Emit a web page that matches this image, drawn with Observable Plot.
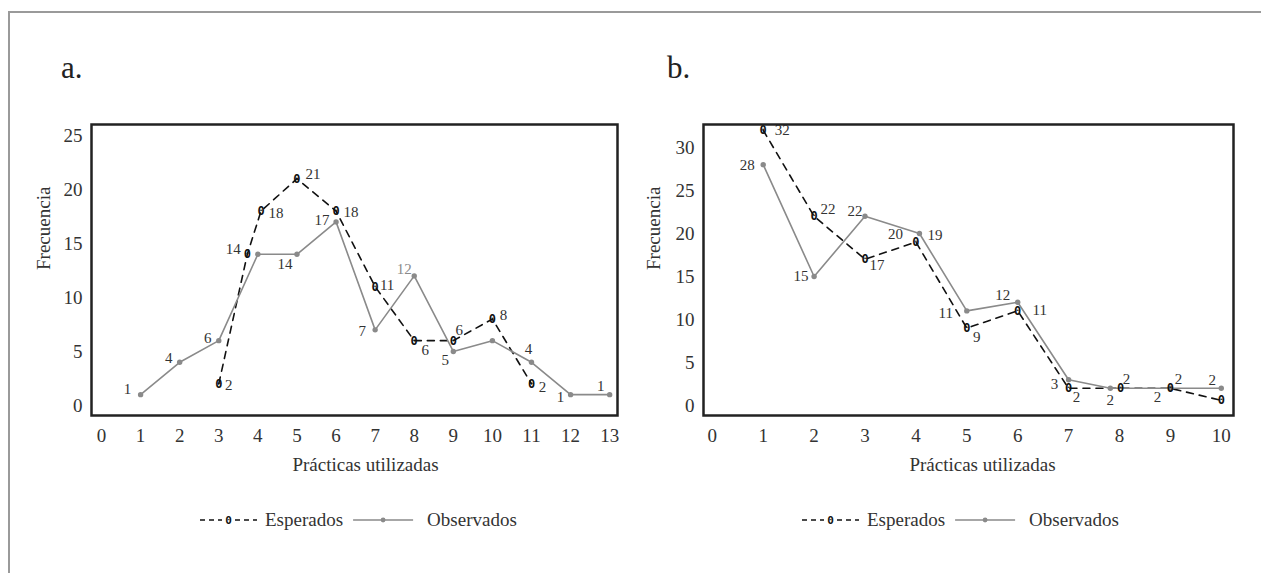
<!DOCTYPE html>
<html><head><meta charset="utf-8">
<script src="https://cdn.jsdelivr.net/npm/d3@7"></script>
<script src="https://cdn.jsdelivr.net/npm/@observablehq/plot@0.6"></script>
<style>
html,body{margin:0;padding:0;background:#fff;}
#page{position:relative;width:1261px;height:573px;overflow:hidden;font-family:"Liberation Serif","Times New Roman",serif;color:#333;}
#border{position:absolute;left:8px;top:11px;width:1300px;height:600px;border-top:2px solid #9a9a9a;border-left:2px solid #9a9a9a;}
.chart{position:absolute;top:0;}
#overlay{position:absolute;left:0;top:0;pointer-events:none;}
</style></head>
<body><div id="page"><div id="border"></div></div>
<script>
// ---------- Data (panel a) ----------
const practicesA = [1,2,3,4,5,6,7,8,9,10,11,12,13];
const observedA  = [1,4,6,14,14,17,7,12,5,6,4,1,1];
const practicesExpectedA = [3,3.73,4.08,5,6,7,8,9,10,11];
const expectedA  = [2,14,18,21,18,11,6,6,8,2];
const xTicksA = [0,1,2,3,4,5,6,7,8,9,10,11,12,13];
const yTicksA = [0,5,10,15,20,25];

// ---------- Data (panel b) ----------
const practicesB = [1,2,3,4.07,5,6,7,7.82,9,10];
const observedB  = [28,15,22,20,11,12,3,2,2,2];
const practicesExpectedB = [1,2,3,4,5,6,7,8.02,9,10];
const expectedB  = [32,22,17,19,9,11,2,2,2,0.6];
const xTicksB = [0,1,2,3,4,5,6,7,8,9,10];
const yTicksB = [0,5,10,15,20,25,30];

const seriesNames = ["Esperados","Observados"];
const panelTitles = ["a.","b."];
const xTitle = "Prácticas utilizadas";
const yTitle = "Frecuencia";

// ---------- Label placement (layout only): [index, dx, dy, fill] ----------
const obsLabelsA = [[0,-13,-5],[1,-11,-4],[2,-11,-2],[4,-12,10],[5,-14,-2],[6,-13,1],[7,-10,-7,"#8a8a8a"],[8,-8,9],[10,-3,-13],[11,-10,3],[12,-9,-8]];
const expLabelsA = [[0,10,1],[1,-14,-5],[2,15,2],[3,16,-5],[4,15,1],[5,12,-1],[6,11,10],[7,6,-10],[8,11,-4],[9,11,3]];
const obsLabelsB = [[0,-16,1],[1,-13,0],[2,-10,-5],[3,-24,1],[4,-21,2],[5,-15,-7],[6,-14,4],[7,0,12],[8,-13,9],[9,-9,-8]];
const expLabelsB = [[0,19,0],[1,14,-7],[2,12,6],[3,19,-7],[4,10,9],[5,22,-1],[6,8,9],[7,6,-9],[8,8,-9]];

const GRAY = "#8a8a8a", INK = "#111", TXT = "#333";

function makeChart(cfg) {
  const obs = cfg.xo.map((x, i) => ({x, y: cfg.yo[i]}));
  const exp = cfg.xe.map((x, i) => ({x, y: cfg.ye[i]}));
  const labelMarks = [];
  for (const [i, dx, dy, fill] of cfg.obsLabels)
    labelMarks.push(Plot.text([obs[i]], {x: "x", y: "y", text: d => String(d.y), dx, dy, fontSize: 15, fill: fill || TXT}));
  for (const [i, dx, dy, fill] of cfg.expLabels)
    labelMarks.push(Plot.text([exp[i]], {x: "x", y: "y", text: d => String(Math.round(d.y)), dx, dy, fontSize: 15, fill: fill || TXT}));
  return Plot.plot({
    width: cfg.width, height: 480,
    marginLeft: cfg.marginLeft, marginRight: cfg.marginRight, marginTop: 124, marginBottom: 65,
    style: {fontFamily: '"Liberation Serif","Times New Roman",serif', fontSize: "19px", color: TXT, background: "transparent", overflow: "visible"},
    x: {type: "linear", domain: cfg.xDomain},
    y: {type: "linear", domain: cfg.yDomain},
    marks: [
      Plot.axisX({ticks: cfg.xTicks, tickSize: 0, tickPadding: 13, tickFormat: d => String(d), label: null}),
      Plot.axisY({ticks: cfg.yTicks, tickSize: 0, tickPadding: 9, tickFormat: d => String(d), label: null}),
      Plot.line(exp, {x: "x", y: "y", stroke: INK, strokeWidth: 1.6, strokeDasharray: "7,6"}),
      Plot.line(obs, {x: "x", y: "y", stroke: GRAY, strokeWidth: 1.6}),
      Plot.dot(obs, {x: "x", y: "y", r: 2.7, fill: GRAY, stroke: "none"}),
      Plot.text(exp, {x: "x", y: "y", text: () => "0", fontFamily: '"DejaVu Sans Mono",monospace', fontWeight: "bold", fontSize: 12, fill: INK}),
      ...labelMarks,
      Plot.text([yTitle], {frameAnchor: "left", text: d => d, rotate: -90, dx: cfg.yTitleDx, fontSize: 19, fill: TXT}),
      Plot.text([xTitle], {frameAnchor: "bottom", text: d => d, dy: 55, dx: cfg.xTitleDx, fontSize: 19, fill: TXT}),
      Plot.frame({stroke: "#222", strokeWidth: 2.5})
    ]
  });
}

const page = document.getElementById("page");

const chartA = makeChart({
  width: 640, marginLeft: 91, marginRight: 23,
  xDomain: [-0.256, 13.2], yDomain: [-0.93, 26.02],
  xTicks: xTicksA, yTicks: yTicksA,
  xo: practicesA, yo: observedA, xe: practicesExpectedA, ye: expectedA,
  obsLabels: obsLabelsA, expLabels: expLabelsA,
  yTitleDx: -47.7, xTitleDx: 11
});
chartA.classList.add("chart"); chartA.style.left = "0px";
page.appendChild(chartA);

const chartB = makeChart({
  width: 621, marginLeft: 63, marginRight: 28,
  xDomain: [-0.173, 10.24], yDomain: [-1.16, 32.67],
  xTicks: xTicksB, yTicks: yTicksB,
  xo: practicesB, yo: observedB, xe: practicesExpectedB, ye: expectedB,
  obsLabels: obsLabelsB, expLabels: expLabelsB,
  yTitleDx: -49.7, xTitleDx: 14
});
chartB.classList.add("chart"); chartB.style.left = "640px";
page.appendChild(chartB);

// ---------- Overlay: panel titles and legends ----------
const svg = d3.select(page).append("svg").attr("id", "overlay").attr("width", 1261).attr("height", 573);
const titleX = [61, 667];
panelTitles.forEach((t, k) => svg.append("text").attr("x", titleX[k]).attr("y", 78)
  .attr("font-family", '"Liberation Serif","Times New Roman",serif').attr("font-size", 31).attr("fill", "#222").text(t));

function legend(x0, y) {
  const g = svg.append("g").attr("transform", `translate(${x0},${y})`)
    .attr("font-family", '"Liberation Serif","Times New Roman",serif').attr("font-size", 19).attr("fill", TXT);
  g.append("line").attr("x1", 0).attr("x2", 22).attr("y1", 0).attr("y2", 0).attr("stroke", INK).attr("stroke-width", 1.4).attr("stroke-dasharray", "5,4");
  g.append("line").attr("x1", 35).attr("x2", 57).attr("y1", 0).attr("y2", 0).attr("stroke", INK).attr("stroke-width", 1.4).attr("stroke-dasharray", "5,4");
  g.append("text").attr("x", 28.5).attr("y", 0).attr("dy", "0.35em").attr("text-anchor", "middle")
    .attr("font-family", '"DejaVu Sans Mono",monospace').attr("font-weight", "bold").attr("font-size", 11).attr("fill", INK).text("0");
  const t1 = g.append("text").attr("x", 65).attr("y", 0).attr("dy", "0.3em").text(seriesNames[0]);
  const w1 = t1.node().getComputedTextLength();
  const lx = 65 + w1 + 10;
  g.append("line").attr("x1", lx).attr("x2", lx + 60).attr("y1", 0).attr("y2", 0).attr("stroke", GRAY).attr("stroke-width", 1.6);
  g.append("circle").attr("cx", lx + 30).attr("cy", 0).attr("r", 2.4).attr("fill", GRAY);
  g.append("text").attr("x", lx + 74).attr("y", 0).attr("dy", "0.3em").text(seriesNames[1]);
}
legend(200, 520);
legend(802, 520);
</script>
</body></html>
